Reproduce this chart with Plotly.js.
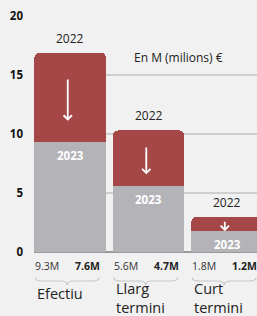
<!DOCTYPE html>
<html>
<head>
<meta charset="utf-8">
<script src="https://cdn.plot.ly/plotly-3.0.1.min.js"></script>
<style>
html,body{margin:0;padding:0;background:#f1f1f1;}
#chart{width:257px;height:316px;}
</style>
</head>
<body>
<div id="chart"></div>
<script>
// ---- data ----
var categories = ["Efectiu", "Llarg<br>termini", "Curt<br>termini"];
var value2023 = [9.3, 5.6, 1.8];
var decrease = [7.6, 4.7, 1.2];
var label2022 = "2022";
var label2023 = "2023";
var valueLabels2023 = ["9.3M", "5.6M", "1.8M"];
var valueLabelsDrop = ["7.6M", "4.7M", "1.2M"];
var yTicks = [0, 5, 10, 15, 20];
var unitNote = "En M (milions) €";

// ---- style ----
var RED = "#a54747";
var GREY = "#b4b4b8";
var BG = "#f1f1f1";
var FONT = "Open Sans, sans-serif";
var xRange = [-0.46, 2.38];
var yRange = [0, 20];
var W = 257, H = 316, ML = 34, MR = 0, MT = 16, MB = 64;
var plotW = W - ML - MR, plotH = H - MT - MB;
var pxPerUnit = plotH / (yRange[1] - yRange[0]);

function xPaper(v){ return (v - xRange[0]) / (xRange[1] - xRange[0]); }
function yPaperPx(px){ return (H - MB - px) / plotH; } // px from top of page

var idx = categories.map(function(_, i){ return i; });
var totals = value2023.map(function(v, i){ return v + decrease[i]; });

var traces = [
  {type: "bar", x: idx, y: value2023, marker: {color: GREY}, width: 0.91, hoverinfo: "skip"},
  {type: "bar", x: idx, y: decrease, marker: {color: RED}, width: 0.91, hoverinfo: "skip"}
];

var annotations = [];
var shapes = [];

idx.forEach(function(i){
  // 2022 label above bar
  annotations.push({x: i, y: totals[i], xref: "x", yref: "y", text: label2022, showarrow: false,
    yanchor: "bottom", yshift: 4, font: {family: FONT, size: 12, color: "#222"}});
  // 2023 label inside grey
  annotations.push({x: i, y: value2023[i], xref: "x", yref: "y", text: "<b>" + label2023 + "</b>", showarrow: false,
    yanchor: "top", yshift: -4, font: {family: FONT, size: 11.5, color: "#ffffff"}});
  // arrow in red part (length scales with the red segment's pixel height)
  var hPx = decrease[i] * pxPerUnit;
  var len = hPx * 0.42 + 5;
  var centerY = value2023[i] + decrease[i] / 2 - 2 / pxPerUnit;
  var headY = centerY - (len / 2) / pxPerUnit;
  annotations.push({x: i - 0.03, y: headY, xref: "x", yref: "y", ax: 0, ay: -len,
    text: "", showarrow: true, standoff: 0,
    arrowcolor: "#ffffff", arrowwidth: 1.8, arrowhead: 4, arrowsize: 0.9});
  // values below axis
  annotations.push({x: xPaper(i), y: yPaperPx(266), xref: "paper", yref: "paper", text: valueLabels2023[i],
    showarrow: false, xanchor: "right", yanchor: "middle", xshift: -9,
    font: {family: FONT, size: 10.5, color: "#333"}});
  annotations.push({x: xPaper(i), y: yPaperPx(266), xref: "paper", yref: "paper", text: "<b>" + valueLabelsDrop[i] + "</b>",
    showarrow: false, xanchor: "left", yanchor: "middle", xshift: 3,
    font: {family: FONT, size: 10.5, color: "#222"}});
  // category label
  var multi = categories[i].indexOf("<br>") >= 0;
  annotations.push({x: xPaper(i - 0.455), y: yPaperPx(multi ? 297.5 : 293), xref: "paper", yref: "paper",
    text: categories[i], showarrow: false, align: "left",
    xanchor: "left", yanchor: "middle", xshift: 2, borderpad: 0,
    font: {family: FONT, size: 14.5, color: "#222"}});
  // brace
  var half = 32 / plotW;
  var r = 7 / plotW;
  var c = xPaper(i) - 3 / plotW;
  var L = c - half, R = c + half;
  var y0 = yPaperPx(277.5), y1 = yPaperPx(281), y2 = yPaperPx(285);
  var p = "M" + L + "," + y0 +
          " Q" + L + "," + y1 + " " + (L + r) + "," + y1 +
          " L" + (c - r) + "," + y1 +
          " Q" + c + "," + y1 + " " + c + "," + y2 +
          " Q" + c + "," + y1 + " " + (c + r) + "," + y1 +
          " L" + (R - r) + "," + y1 +
          " Q" + R + "," + y1 + " " + R + "," + y0;
  shapes.push({type: "path", xref: "paper", yref: "paper", path: p,
    line: {color: "#c8c8c8", width: 1.2}});
});

annotations.push({x: xPaper(1.38), y: yPaperPx(58), xref: "paper", yref: "paper", text: unitNote,
  showarrow: false, xanchor: "center", yanchor: "middle", font: {family: FONT, size: 12, color: "#222"}});

var layout = {
  width: W, height: H,
  margin: {l: ML, r: MR, t: MT, b: MB, pad: 0},
  paper_bgcolor: BG, plot_bgcolor: BG,
  barmode: "stack",
  barcornerradius: 5,
  showlegend: false,
  xaxis: {range: xRange, showticklabels: false, showgrid: false, zeroline: false, showline: false, ticks: "", fixedrange: true},
  yaxis: {range: yRange, tickvals: yTicks, showgrid: true, gridcolor: "#cfcfcf", gridwidth: 1.2,
    zeroline: true, zerolinecolor: "#9a9a9a", zerolinewidth: 2, showline: false, ticks: "",
    ticklabelstandoff: 10, tickfont: {family: FONT, size: 11.5, color: "#111", weight: "bold"}, fixedrange: true},
  annotations: annotations,
  shapes: shapes,
  font: {family: FONT}
};

Plotly.newPlot("chart", traces, layout, {staticPlot: true, displayModeBar: false});
</script>
</body>
</html>
